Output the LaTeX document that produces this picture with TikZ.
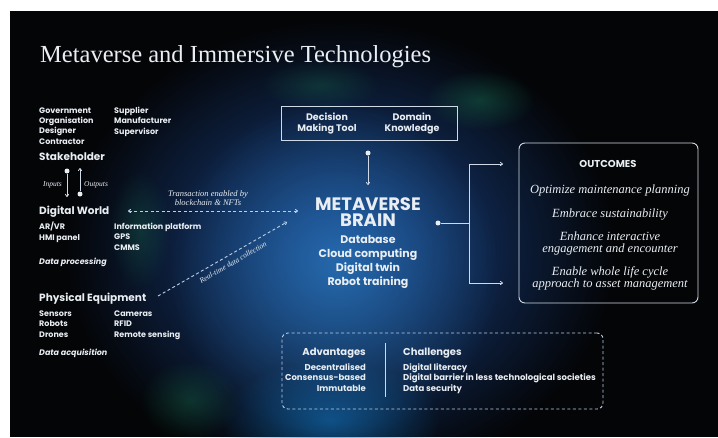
\documentclass[tikz,border=0pt]{standalone}
\usepackage{fontspec}
\setmainfont{Liberation Serif}
\setsansfont{Poppins}
\usepackage{tikz}
\usetikzlibrary{arrows.meta, positioning, fadings}

\definecolor{ink}{HTML}{E9EEF3}
\definecolor{wire}{HTML}{D0DAE6}
\definecolor{dashblue}{HTML}{BCD0EA}
\definecolor{night}{HTML}{040507}
\definecolor{glowblue}{HTML}{1D4E9E}
\definecolor{glowcyan}{HTML}{2F86C8}
\definecolor{glowgreen}{HTML}{1E8A5A}

\tikzfading[name=glow fade, inner color=transparent!0, outer color=transparent!100]

\begin{document}
\begin{tikzpicture}[
				x=1pt, y=-1pt,
				entry/.style={
					text=ink,
					inner sep=0pt,
					align=left,
					anchor=base west,
					font=\sffamily\bfseries\fontsize{8}{10.3}\selectfont
				},
				heading/.style={
					entry,
					font=\sffamily\bfseries\fontsize{10.5}{12}\selectfont
				},
				note/.style={
					text=ink,
					inner sep=0pt,
					font=\itshape\fontsize{7.5}{9}\selectfont
				},
				dot/.style={
					circle,
					fill=ink,
					inner sep=0pt,
					minimum size=5pt
				},
				arrow/.style={
					-{To[length=3pt, width=4pt]},
					draw=wire,
					line width=0.8pt
				},
				link/.style={
					draw=dashblue,
					line width=0.9pt,
					dash pattern=on 3pt off 2.5pt
				},
				glow/.style={
					path fading=glow fade
				}
				]
				
				% Background and glow
				\fill[white] (0,0) rectangle (718,437);
				\fill[night] (10,11) rectangle (718,437);
				\begin{scope}
					\clip (10,11) rectangle (718,437);
					\fill[glowblue, glow, fill opacity=0.9] (340,250) ellipse (275 and 230);
					\fill[glowcyan, glow, fill opacity=0.55] (335,270) ellipse (165 and 170);
					\fill[cyan!60!blue, glow, fill opacity=0.55] (330,420) ellipse (110 and 60);
					\fill[glowgreen, glow, fill opacity=0.35] (480,100) ellipse (55 and 30);
					\fill[glowgreen, glow, fill opacity=0.25] (320,85) ellipse (60 and 25);
					\fill[glowgreen, glow, fill opacity=0.3] (190,400) ellipse (50 and 40);
					\fill[glowgreen, glow, fill opacity=0.25] (140,230) ellipse (30 and 60);
				\end{scope}
				
				% Title
				\node[anchor=base west, inner sep=0pt, text=ink, font=\fontsize{24.5}{28}\selectfont] (title) at (40,62) {Metaverse and Immersive Technologies};
				
				% Stakeholder group
				\node[entry] (stakeA) at (39,144) {Government\\Organisation\\Designer\\Contractor};
				\node[entry] (stakeB) at (114,134) {Supplier\\Manufacturer\\Supervisor};
				\node[heading] (stakeholder) at (39,160) {Stakeholder};
				
				% Inputs and outputs between stakeholder and digital world
				\node[dot] (inDot) at (67,171) {};
				\coordinate (inEnd) at (67,197);
				\draw[arrow] (inDot) -- (inEnd);
				\node[dot] (outDot) at (80,194) {};
				\coordinate (outEnd) at (80,168);
				\draw[arrow] (outDot) -- (outEnd);
				\node[note, anchor=base east] (inputs) at (62,186) {Inputs};
				\node[note, anchor=base west] (outputs) at (84,186) {Outputs};
				
				% Digital world group
				\node[heading] (digital) at (39,214) {Digital World};
				\node[entry] (digitalA) at (39,240) {AR/VR\\HMI panel};
				\node[entry] (digitalB) at (114,250) {Information platform\\GPS\\CMMS};
				\node[entry, font=\sffamily\bfseries\itshape\fontsize{8}{10}\selectfont] (processing) at (39,264) {Data processing};
				
				% Physical equipment group
				\node[heading] (physical) at (39,301) {Physical Equipment};
				\node[entry] (physicalA) at (39,337) {Sensors\\Robots\\Drones};
				\node[entry] (physicalB) at (114,337) {Cameras\\RFID\\Remote sensing};
				\node[entry, font=\sffamily\bfseries\itshape\fontsize{8}{10}\selectfont] (acquisition) at (39,355) {Data acquisition};
				
				% Links towards the brain
				\coordinate (txStart) at (128,211);
				\coordinate (txEnd) at (298,211);
				\draw[link, {To[length=3pt, width=4pt]}-{To[length=3pt, width=4pt]}] (txStart) -- (txEnd);
				\node[note, align=center, anchor=base, font=\itshape\fontsize{8.5}{9}\selectfont] (transaction) at (208,205) {Transaction enabled by\\blockchain \& NFTs};
				\coordinate (rtStart) at (158,296);
				\coordinate (rtEnd) at (287,222);
				\draw[link, -{To[length=3pt, width=4pt]}] (rtStart) -- node[note, sloped, below=5pt, pos=0.55] (realtime) {Real-time data collection} (rtEnd);
				
				% Decision tools feeding the brain
				\node[draw=wire, line width=0.8pt, minimum width=176pt, minimum height=34pt] (tools) at (369,123) {};
				\node[entry, align=center, anchor=base, font=\sffamily\bfseries\fontsize{9.5}{11}\selectfont] (decision) at (327,131) {Decision\\Making Tool};
				\node[entry, align=center, anchor=base, font=\sffamily\bfseries\fontsize{9.5}{11}\selectfont] (domain) at (412,131) {Domain\\Knowledge};
				\node[dot] (toolsDot) at (368,153) {};
				\coordinate (toolsEnd) at (368,185);
				\draw[arrow] (toolsDot) -- (toolsEnd);
				
				% Metaverse brain
				\node[entry, align=center, anchor=base, font=\sffamily\bfseries\fontsize{18}{15.5}\selectfont] (brain) at (368,226) {METAVERSE\\BRAIN};
				\node[entry, align=center, anchor=base, font=\sffamily\bfseries\fontsize{11}{13.7}\selectfont] (brainParts) at (368,285) {Database\\Cloud computing\\Digital twin\\Robot training};
				
				% Brain to outcomes
				\node[dot] (brainDot) at (438,223) {};
				\coordinate (fork) at (469,223);
				\coordinate (outTop) at (503,164);
				\coordinate (outBottom) at (503,283);
				\draw[draw=wire, line width=0.8pt] (brainDot) -- (fork);
				\draw[arrow] (fork) |- (outTop);
				\draw[arrow] (fork) |- (outBottom);
				
				% Outcomes
				\node[draw=wire, line width=0.9pt, rounded corners=6pt, minimum width=179pt, minimum height=160pt] (outcomes) at (608.5,223) {};
				\node[entry, anchor=base, font=\sffamily\bfseries\fontsize{10}{12}\selectfont] (outTitle) at (608,167) {OUTCOMES};
				\node[note, anchor=base, font=\itshape\fontsize{12.5}{12}\selectfont] (outA) at (610,193) {Optimize maintenance planning};
				\node[note, anchor=base, font=\itshape\fontsize{12.5}{12}\selectfont] (outB) at (610,217) {Embrace sustainability};
				\node[note, anchor=base, align=center, font=\itshape\fontsize{12.5}{12}\selectfont] (outC) at (610,252) {Enhance interactive\\engagement and encounter};
				\node[note, anchor=base, align=center, font=\itshape\fontsize{12.5}{12}\selectfont] (outD) at (610,287) {Enable whole life cycle\\approach to asset management};
				
				% Advantages and challenges
				\node[draw=dashblue, line width=0.9pt, dash pattern=on 3pt off 2.5pt, rounded corners=6pt, minimum width=321pt, minimum height=76pt] (proscons) at (442.5,371) {};
				\node[heading, anchor=base east, font=\sffamily\bfseries\fontsize{10}{12}\selectfont] (advantages) at (366,355) {Advantages};
				\node[entry, anchor=base east, align=right, font=\sffamily\bfseries\fontsize{8.5}{10.5}\selectfont] (advList) at (366,391) {Decentralised\\Consensus-based\\Immutable};
				\draw[draw=wire, line width=0.8pt] (385,343) -- (385,397);
				\node[heading, font=\sffamily\bfseries\fontsize{10}{12}\selectfont] (challenges) at (403,355) {Challenges};
				\node[entry, font=\sffamily\bfseries\fontsize{8.5}{10.5}\selectfont] (chalList) at (403,391) {Digital literacy\\Digital barrier in less technological societies\\Data security};
				
			\end{tikzpicture}
\end{document}
